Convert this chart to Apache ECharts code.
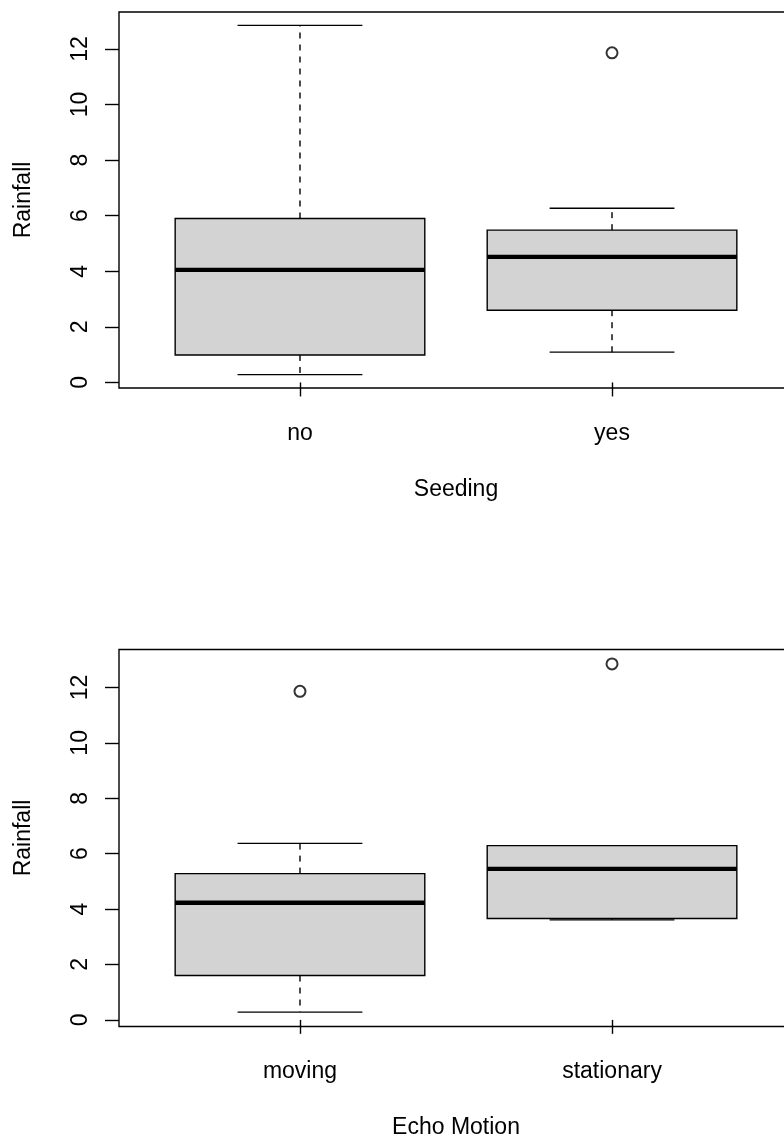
<!DOCTYPE html>
<html>
<head>
<meta charset="utf-8">
<script src="https://cdn.jsdelivr.net/npm/echarts@6/dist/echarts.min.js"></script>
<style>
  html, body { margin: 0; padding: 0; background: #fff; }
  #chart { width: 784px; height: 1137px; }
</style>
</head>
<body>
<div id="chart"></div>
<script>
// ---- data ----
const seedingCats = ['no', 'yes'];
// [lower whisker, Q1, median, Q3, upper whisker]
const seedingStats = [
  [0.28, 0.99, 4.05, 5.90, 12.85],
  [1.09, 2.60, 4.52, 5.48, 6.27]
];
// [group position, value]
const seedingOutliers = [[2, 11.86]];

const motionCats = ['moving', 'stationary'];
const motionStats = [
  [0.28, 1.60, 4.23, 5.28, 6.37],
  [3.61, 3.66, 5.45, 6.29, 6.29]
];
const motionOutliers = [[1, 11.86], [2, 12.85]];

const yTicks = [0, 2, 4, 6, 8, 10, 12];
const yName = 'Rainfall';
const seedingName = 'Seeding';
const motionName = 'Echo Motion';

// ---- drawing ----
const FONT = '"Liberation Sans", Arial, Helvetica, sans-serif';
const FS = 23;

function boxData(stats) {
  return stats.map((s, i) => [i + 1].concat(s));
}

function renderBox(params, api) {
  const x = api.value(0);
  const lo = api.value(1), q1 = api.value(2), med = api.value(3), q3 = api.value(4), hi = api.value(5);
  const P = (dx, v) => api.coord([x + dx, v]);
  const seg = (a, b, style) => ({
    type: 'line',
    shape: { x1: a[0], y1: a[1], x2: b[0], y2: b[1] },
    style: style
  });
  const dashed = { stroke: '#000', lineWidth: 1.4, lineDash: [6, 6], fill: null };
  const solid = { stroke: '#000', lineWidth: 1.4, fill: null };
  const tl = P(-0.4, q3), br = P(0.4, q1);
  return {
    type: 'group',
    children: [
      seg(P(0, q3), P(0, hi), dashed),
      seg(P(0, q1), P(0, lo), dashed),
      seg(P(-0.2, hi), P(0.2, hi), solid),
      seg(P(-0.2, lo), P(0.2, lo), solid),
      {
        type: 'rect',
        shape: { x: tl[0], y: tl[1], width: br[0] - tl[0], height: br[1] - tl[1] },
        style: { fill: '#D3D3D3', stroke: '#000', lineWidth: 1.4 }
      },
      seg(P(-0.4, med), P(0.4, med), { stroke: '#000', lineWidth: 4.4 })
    ]
  };
}

function xAxisFor(idx, cats, name) {
  return {
    type: 'value', gridIndex: idx, min: 0.42, max: 2.58,
    name: name, nameLocation: 'middle', nameGap: 90,
    nameTextStyle: { fontFamily: FONT, fontSize: FS, color: '#000' },
    axisLine: { show: false },
    splitLine: { show: false },
    axisTick: { show: true, inside: false, length: 14, customValues: [1, 2],
      lineStyle: { color: '#000', width: 1.4 } },
    axisLabel: { show: true, customValues: [1, 2], margin: 34,
      formatter: v => cats[Math.round(v) - 1],
      fontFamily: FONT, fontSize: FS, color: '#000' }
  };
}

function yAxisFor(idx, min, max) {
  return {
    type: 'value', gridIndex: idx, min: min, max: max,
    name: yName, nameLocation: 'middle', nameGap: 84, nameRotate: 90,
    nameTextStyle: { fontFamily: FONT, fontSize: FS, color: '#000' },
    axisLine: { show: false },
    splitLine: { show: false },
    axisTick: { show: true, inside: false, length: 14, customValues: yTicks,
      lineStyle: { color: '#000', width: 1.4 } },
    axisLabel: { show: true, customValues: yTicks, rotate: 90, margin: 27,
      fontFamily: FONT, fontSize: FS, color: '#000' }
  };
}

const outlierStyle = { color: '#000', borderColor: '#000', borderWidth: 1.5 };

const chart = echarts.init(document.getElementById('chart'), null, { renderer: 'canvas' });
chart.setOption({
  animation: false,
  backgroundColor: '#fff',
  grid: [
    { left: 119, top: 12, width: 674, height: 376, outerBoundsMode: 'none', containLabel: false,
      show: true, borderColor: '#000', borderWidth: 1.4, backgroundColor: 'transparent' },
    { left: 119, top: 649.5, width: 674, height: 377, outerBoundsMode: 'none', containLabel: false,
      show: true, borderColor: '#000', borderWidth: 1.4, backgroundColor: 'transparent' }
  ],
  xAxis: [xAxisFor(0, seedingCats, seedingName), xAxisFor(1, motionCats, motionName)],
  yAxis: [yAxisFor(0, -0.2, 13.33), yAxisFor(1, -0.24, 13.37)],
  series: [
    { type: 'custom', xAxisIndex: 0, yAxisIndex: 0, renderItem: renderBox,
      encode: { x: 0, y: [1, 2, 3, 4, 5] }, data: boxData(seedingStats), clip: false },
    { type: 'scatter', xAxisIndex: 0, yAxisIndex: 0, data: seedingOutliers,
      symbol: 'emptyCircle', symbolSize: 11, itemStyle: outlierStyle },
    { type: 'custom', xAxisIndex: 1, yAxisIndex: 1, renderItem: renderBox,
      encode: { x: 0, y: [1, 2, 3, 4, 5] }, data: boxData(motionStats), clip: false },
    { type: 'scatter', xAxisIndex: 1, yAxisIndex: 1, data: motionOutliers,
      symbol: 'emptyCircle', symbolSize: 11, itemStyle: outlierStyle }
  ]
});
</script>
</body>
</html>
